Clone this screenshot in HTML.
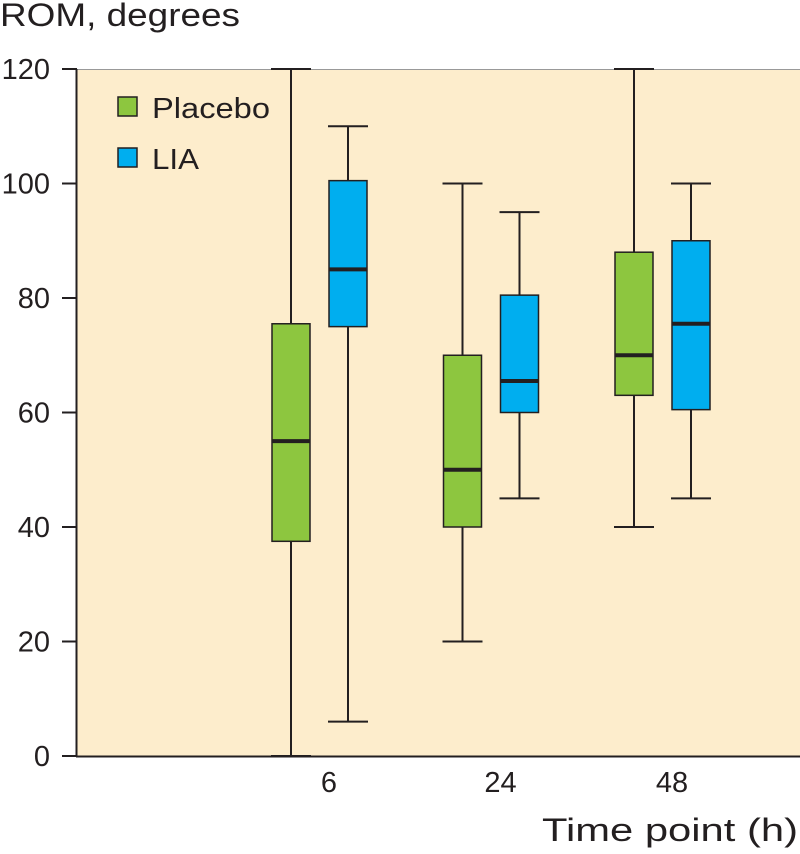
<!DOCTYPE html>
<html><head><meta charset="utf-8"><style>
body{margin:0;background:#fff;width:800px;height:849px;overflow:hidden}
svg text{font-family:"Liberation Sans",Arial,sans-serif;fill:#231f20}
</style></head><body>
<svg id="chart" width="800" height="849" viewBox="0 0 800 849">
<text x="0" y="26" font-size="32" textLength="240" lengthAdjust="spacingAndGlyphs">ROM, degrees</text>
<rect x="77" y="69" width="723" height="687" fill="#fdedcc"/>
<line x1="77" y1="69.5" x2="800" y2="69.5" stroke="#999" stroke-width="1"/>
<g id="marks"></g>
<line x1="76.5" y1="69" x2="76.5" y2="757" stroke="#231f20" stroke-width="2"/>
<line x1="76" y1="756.5" x2="800" y2="756.5" stroke="#231f20" stroke-width="2"/>
<g id="axes"></g>
<g>
<rect x="118" y="97" width="19" height="19" fill="#8dc63f" stroke="#231f20" stroke-width="1.5"/>
<text x="152" y="118" font-size="29" textLength="118" lengthAdjust="spacingAndGlyphs">Placebo</text>
<rect x="118" y="148" width="19" height="19" fill="#00aeef" stroke="#231f20" stroke-width="1.5"/>
<text x="152" y="169" font-size="29" textLength="47" lengthAdjust="spacingAndGlyphs">LIA</text>
</g>
<text x="542" y="841" font-size="32" textLength="256" lengthAdjust="spacingAndGlyphs">Time point (h)</text>
</svg>
<script>
const categories=["6","24","48"];
const placeboMin=[0,20,40];
const placeboQ1=[37.5,40,63];
const placeboMedian=[55,50,70];
const placeboQ3=[75.5,70,88];
const placeboMax=[120,100,120];
const liaMin=[6,45,45];
const liaQ1=[75,60,60.5];
const liaMedian=[85,65.5,75.5];
const liaQ3=[100.5,80.5,90];
const liaMax=[110,95,100];
const yTicks=[0,20,40,60,80,100,120];

const NS="http://www.w3.org/2000/svg";
const y=v=>756-v*(687/120);
const xc=i=>320+i*171.5;
const marks=document.getElementById('marks'),axes=document.getElementById('axes');
function mk(tag,attrs,parent){const e=document.createElementNS(NS,tag);for(const k in attrs)e.setAttribute(k,attrs[k]);parent.appendChild(e);return e;}
function box(cx,mn,q1,md,q3,mx,color,name){
  const g=mk('g',{},marks);
  
  
  const w=mk('line',{x1:cx,x2:cx,y1:y(mx),y2:y(mn),stroke:'#231f20','stroke-width':2},g);
  
  
  [mn,mx].forEach(v=>{const c=mk('line',{x1:cx-20,x2:cx+20,y1:y(v),y2:y(v),stroke:'#231f20','stroke-width':2},g);
    
    });
  const r=mk('rect',{x:cx-19,y:y(q3),width:38,height:y(q1)-y(q3),fill:color,stroke:'#231f20','stroke-width':1.5},g);
  
  
  const m=mk('line',{x1:cx-19,x2:cx+19,y1:y(md),y2:y(md),stroke:'#231f20','stroke-width':4},g);
  
  
}
categories.forEach((c,i)=>{
  box(xc(i)-29,placeboMin[i],placeboQ1[i],placeboMedian[i],placeboQ3[i],placeboMax[i],'#8dc63f','box-placebo-'+c+'h');
  box(xc(i)+28,liaMin[i],liaQ1[i],liaMedian[i],liaQ3[i],liaMax[i],'#00aeef','box-lia-'+c+'h');
  const t=mk('text',{x:xc(i)+9,y:792,'font-size':29,'text-anchor':'middle'},axes);
  t.textContent=c;
  
  
});
yTicks.forEach(v=>{
  const l=mk('line',{x1:62,x2:77,y1:y(v),y2:y(v),stroke:'#231f20','stroke-width':2},axes);
  
  
  const t=mk('text',{x:50,y:y(v)+10,'font-size':29,'text-anchor':'end'},axes);
  t.textContent=v;
  
  
});
</script>
</body></html>
